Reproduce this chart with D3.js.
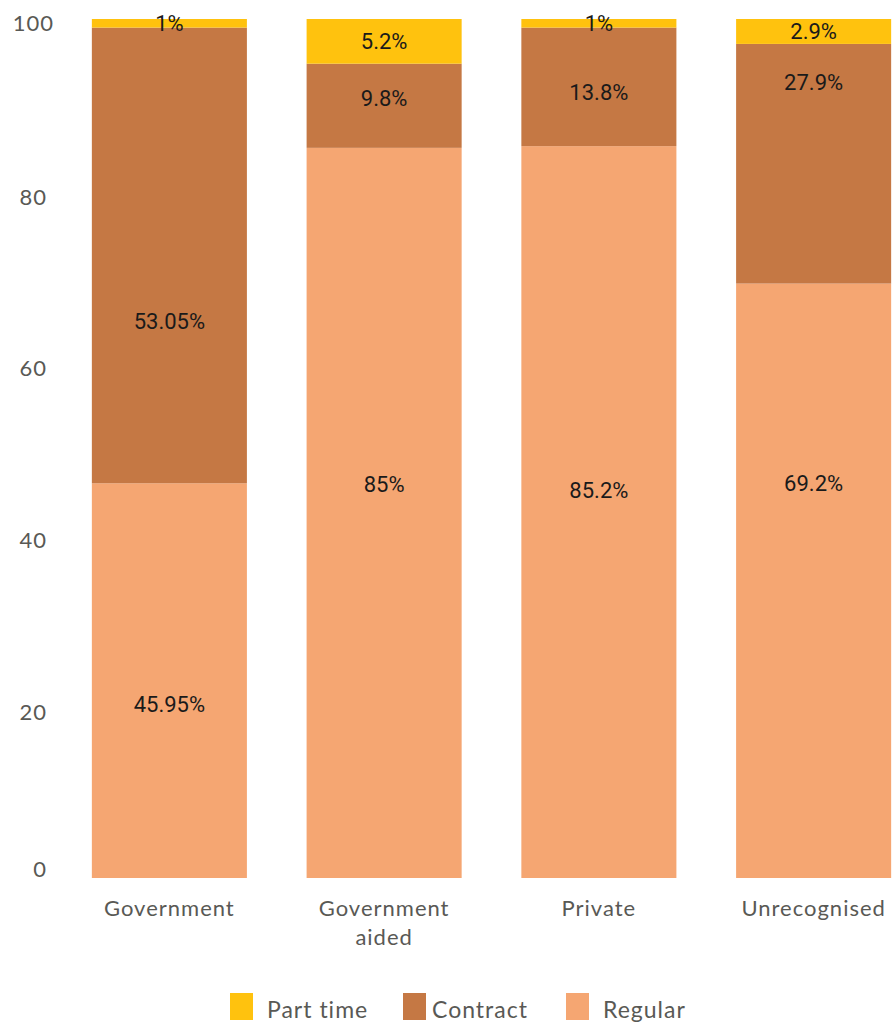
<!DOCTYPE html>
<html>
<head>
<meta charset="utf-8">
<script src="https://cdn.jsdelivr.net/npm/d3@7"></script>
<style>
  body { margin: 0; background: #fff; }
  svg { display: block; }
</style>
</head>
<body>
<div id="wrapper"></div>
<script>
const categories = ["Government", "Government aided", "Private", "Unrecognised"];
const regular = [45.95, 85, 85.2, 69.2];
const contract = [53.05, 9.8, 13.8, 27.9];
const partTime = [1, 5.2, 1, 2.9];
const regularLabels = ["45.95%", "85%", "85.2%", "69.2%"];
const contractLabels = ["53.05%", "9.8%", "13.8%", "27.9%"];
const partTimeLabels = ["1%", "5.2%", "1%", "2.9%"];
const yTicks = [0, 20, 40, 60, 80, 100];
const seriesNames = ["Part time", "Contract", "Regular"];

function drawChart() {
  const width = 895;
  const height = 1027;

  const svg = d3.select("#wrapper").append("svg")
    .attr("width", width)
    .attr("height", height);

  const colors = {
    "Regular": "#F5A672",
    "Contract": "#C57844",
    "Part time": "#FFC20E",
  };

  const rows = categories.map((c, i) => ({
    category: c,
    "Regular": regular[i],
    "Contract": contract[i],
    "Part time": partTime[i],
  }));
  const labels = {
    "Regular": regularLabels,
    "Contract": contractLabels,
    "Part time": partTimeLabels,
  };

  const stack = d3.stack().keys(["Regular", "Contract", "Part time"]);
  const series = stack(rows);

  const xScale = d3.scaleBand()
    .domain(categories)
    .range([62, 921])
    .paddingInner(0.278)
    .paddingOuter(0.139);

  const yScale = d3.scaleLinear()
    .domain([0, 100])
    .range([878, 19]);

  // bars
  const layers = svg.append("g")
    .selectAll("g")
    .data(series)
    .join("g")
    .attr("fill", d => colors[d.key]);

  layers.selectAll("rect")
    .data(d => d)
    .join("rect")
    .attr("x", d => xScale(d.data.category))
    .attr("width", xScale.bandwidth())
    .attr("y", d => yScale(d[1]))
    .attr("height", d => yScale(d[0]) - yScale(d[1]));

  // where each label sits inside its segment (share of segment height from its bottom)
  const labelFraction = {
    "Regular": [0.44, 0.54, 0.53, 0.665],
    "Contract": [0.355, 0.59, 0.46, 0.84],
    "Part time": [0.55, 0.5, 0.55, 0.5],
  };

  series.forEach(s => {
    svg.append("g")
      .selectAll("text")
      .data(s)
      .join("text")
      .attr("x", d => xScale(d.data.category) + xScale.bandwidth() / 2)
      .attr("y", (d, i) => yScale(d[0] + (d[1] - d[0]) * labelFraction[s.key][i]))
      .attr("dy", "0.36em")
      .attr("text-anchor", "middle")
      .attr("font-family", "Roboto, 'Liberation Sans', sans-serif")
      .attr("font-size", 22)
      .attr("fill", "#1a1a1a")
      .text((d, i) => labels[s.key][i]);
  });

  // y axis
  const yAxisGenerator = d3.axisLeft(yScale)
    .tickValues(yTicks)
    .tickSize(0)
    .tickPadding(0);

  const yAxis = svg.append("g")
    .attr("transform", "translate(47,0)")
    .call(yAxisGenerator);
  yAxis.select(".domain").remove();
  yAxis.selectAll("text")
    .attr("font-family", "Lato, 'Noto Sans', sans-serif")
    .attr("font-size", 22)
    .attr("letter-spacing", 1)
    .attr("fill", "#595955")
    .attr("dx", d => d === 100 ? 7 : 0)
    .attr("dy", d => d === 0 ? "-0.05em" : d === 100 ? "0.5em" : "0.6em");

  // x axis
  const xAxisGenerator = d3.axisBottom(xScale)
    .tickSize(0)
    .tickPadding(0)
    .tickFormat("");

  const xAxis = svg.append("g")
    .attr("transform", "translate(0,878)")
    .call(xAxisGenerator);
  xAxis.select(".domain").remove();

  xAxis.selectAll(".tick")
    .append("text")
    .attr("text-anchor", "middle")
    .attr("font-family", "Lato, 'Noto Sans', sans-serif")
    .attr("font-size", 22)
    .attr("letter-spacing", 1)
    .attr("fill", "#595955")
    .each(function(d) {
      const words = d === "Government aided" ? ["Government", "aided"] : [d];
      d3.select(this).selectAll("tspan")
        .data(words)
        .join("tspan")
        .attr("x", 0)
        .attr("y", (w, i) => 38 + i * 29)
        .text(w => w);
    });

  // legend
  const legendX = [230, 403, 566];
  const legend = svg.append("g")
    .selectAll("g")
    .data(seriesNames)
    .join("g")
    .attr("transform", (d, i) => `translate(${legendX[i]},993)`);

  legend.append("rect")
    .attr("width", 23)
    .attr("height", 27)
    .attr("fill", d => colors[d]);

  legend.append("text")
    .attr("x", (d, i) => i === 1 ? 29 : 37)
    .attr("y", 25)
    .attr("font-family", "Lato, 'Noto Sans', sans-serif")
    .attr("font-size", 23)
    .attr("letter-spacing", 1)
    .attr("fill", "#595955")
    .text(d => d);
}

drawChart();
</script>
</body>
</html>
